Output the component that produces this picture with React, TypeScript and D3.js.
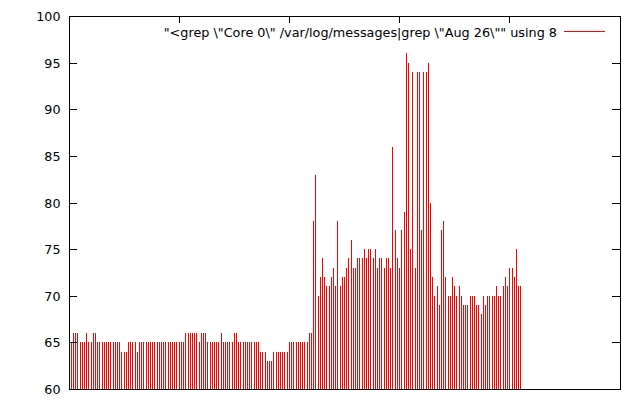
import React from "react";
import * as d3 from "d3";

const LEGEND = '"<grep \\"Core 0\\" /var/log/messages|grep \\"Aug 26\\"" using 8';

const VALUES: number[] = [
  65, 65, 66, 66, 66, 65, 65, 65, 66, 65,
  65, 66, 66, 65, 65, 65, 65, 65, 65, 65,
  65, 65, 65, 65, 64, 64, 64, 65, 65, 65,
  65, 64, 65, 65, 65, 65, 65, 65, 65, 65,
  65, 65, 65, 65, 65, 65, 65, 65, 65, 65,
  65, 65, 65, 66, 66, 66, 66, 66, 66, 65,
  66, 66, 66, 65, 65, 65, 65, 65, 65, 66,
  65, 65, 65, 65, 65, 66, 66, 65, 65, 65,
  65, 65, 65, 65, 65, 65, 65, 64, 64, 64,
  63, 63, 63, 64, 64, 64, 64, 64, 64, 64,
  65, 65, 65, 65, 65, 65, 65, 65, 65, 66,
  66, 78, 83, 70, 72, 74, 72, 71, 71, 72,
  73, 71, 78, 71, 72, 72, 73, 74, 76, 73,
  73, 74, 74, 74, 75, 74, 75, 75, 74, 75,
  73, 74, 74, 73, 74, 74, 73, 86, 77, 74,
  73, 77, 79, 96, 95, 75, 94, 73, 94, 94,
  77, 94, 94, 95, 80, 72, 70, 71, 69, 77,
  78, 72, 70, 70, 72, 71, 70, 71, 70, 69,
  69, 69, 70, 70, 70, 69, 69, 68, 70, 69,
  70, 70, 70, 70, 71, 70, 70, 71, 72, 71,
  73, 73, 72, 75, 71, 71,
];

const Y_TICKS = [60, 65, 70, 75, 80, 85, 90, 95, 100];
const X_TICKS = [50, 100, 150, 200];
const X_DOMAIN: [number, number] = [0, 250];
const Y_DOMAIN: [number, number] = [60, 100];

const W = 640;
const H = 400;
const L = 69;
const R = 620;
const T = 16;
const B = 389;

export default function App() {
  const xs = d3.scaleLinear().domain(X_DOMAIN).range([L, R]);
  const ys = d3.scaleLinear().domain(Y_DOMAIN).range([B, T]);
  const font = "'DejaVu Sans', sans-serif";
  return (
    <svg
      width={W}
      height={H}
      style={{ position: "absolute", left: 0, top: 0, background: "#fff" }}
      shapeRendering="crispEdges"
    >
      <rect x={0} y={0} width={W} height={H} fill="#fff" />
      {VALUES.map((v, i) => {
        const x = Math.floor(xs(i)) + 0.5;
        return (
          <line
            key={i}
            x1={x}
            x2={x}
            y1={B}
            y2={Math.round(ys(v))}
            stroke="#ff0000"
            strokeWidth={1}
          />
        );
      })}
      <rect
        x={L + 0.5}
        y={T + 0.5}
        width={R - L}
        height={B - T}
        fill="none"
        stroke="#000"
        strokeWidth={1}
      />
      {Y_TICKS.map((t) => {
        const y = Math.round(ys(t)) + 0.5;
        return (
          <g key={t}>
            <line x1={L} x2={L + 8} y1={y} y2={y} stroke="#000" />
            <line x1={R - 8} x2={R} y1={y} y2={y} stroke="#000" />
            <text
              x={60.5}
              y={y + 4.7}
              textAnchor="end"
              fontFamily={font}
              fontSize={12.7}
              fill="#000"
            >
              {t}
            </text>
          </g>
        );
      })}
      {X_TICKS.map((t) => {
        const x = Math.floor(xs(t)) + 0.5;
        return <line key={t} x1={x} x2={x} y1={T} y2={T + 7} stroke="#000" />;
      })}
      <text
        x={557}
        y={36.5}
        textAnchor="end"
        fontFamily={font}
        fontSize={12.8}
        fill="#000"
      >
        {LEGEND}
      </text>
      <line x1={564} x2={605} y1={31.5} y2={31.5} stroke="#ff0000" />
    </svg>
  );
}
